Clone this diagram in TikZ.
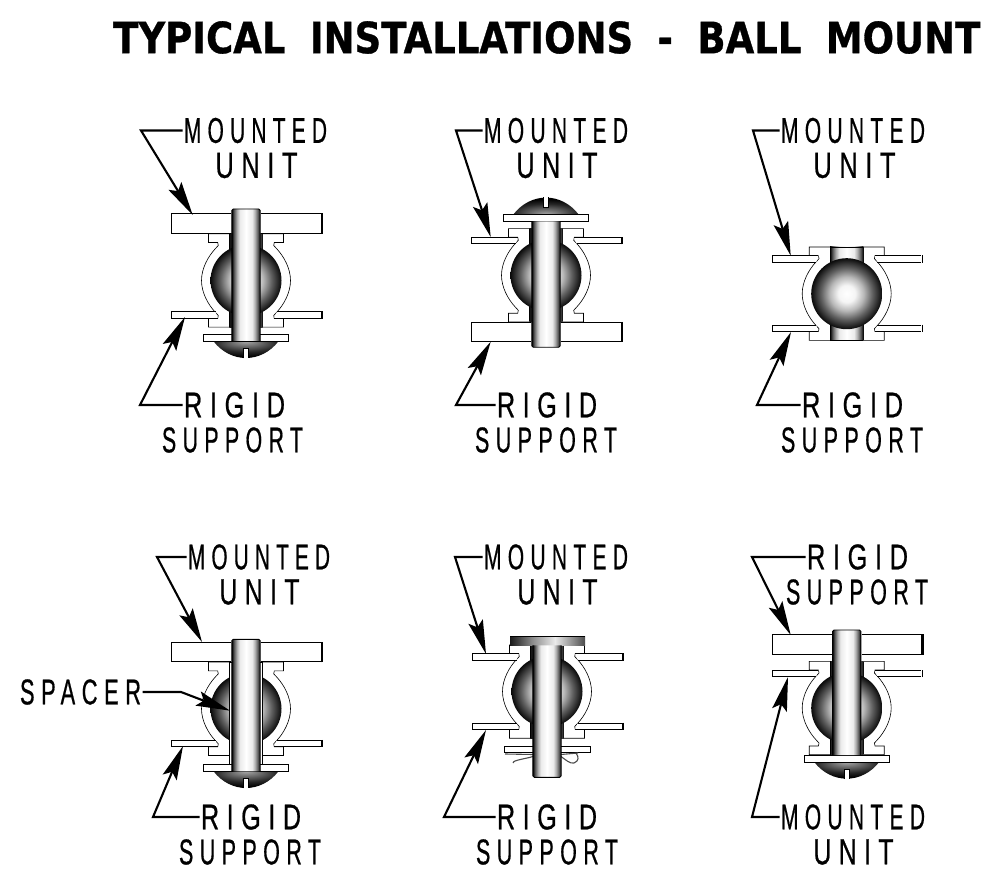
\documentclass[tikz,border=0pt]{standalone}
\usepackage{fontspec}
\usepackage{graphicx}
\usetikzlibrary{arrows.meta}
\newfontfamily\labf[LetterSpace=30,FakeBold=0.8]{Liberation Sans}
\newfontfamily\titf[WordSpace=1.9,FakeBold=0.8]{DejaVu Sans Bold}
\pgfdeclarehorizontalshading{pinsh}{100bp}{color(0bp)=(black);color(25bp)=(black);color(29bp)=(black!65);color(34bp)=(black!32);color(39bp)=(black!8);color(50bp)=(white);color(61bp)=(black!8);color(66bp)=(black!32);color(71bp)=(black!65);color(75bp)=(black);color(100bp)=(black)}
\pgfdeclareradialshading{ballsh}{\pgfpoint{0bp}{0bp}}{color(0bp)=(white);color(6bp)=(black!4);color(12bp)=(black!28);color(18bp)=(black!62);color(25bp)=(black!96);color(50bp)=(black)}
\pgfdeclareradialshading{domedn}{\pgfpoint{0bp}{25bp}}{color(0bp)=(black!35);color(12bp)=(black!60);color(24bp)=(black!85);color(35bp)=(black);color(80bp)=(black)}
\pgfdeclareradialshading{domeup}{\pgfpoint{0bp}{-25bp}}{color(0bp)=(black!35);color(12bp)=(black!60);color(24bp)=(black!85);color(35bp)=(black);color(80bp)=(black)}
\pgfdeclarehorizontalshading{headsh}{100bp}{color(0bp)=(black!90);color(25bp)=(black!90);color(40bp)=(black!45);color(55bp)=(black!8);color(75bp)=(black!70);color(100bp)=(black!70)}
\tikzset{
 lbl/.style={anchor=west,inner sep=0pt,outer sep=1.5pt},
 conn/.style={line width=2.1pt,line join=miter,-{Stealth[length=34pt,width=15pt,inset=6pt]}},
 part/.style={draw=black,fill=white,line width=1pt},
 thinln/.style={draw=black,fill=white,line width=.6pt},
 wire/.style={draw=black!70,line width=1.1pt}
}
% housing with ball and neck
\newcommand\hsg[2]{\begin{scope}[shift={(#1,#2)}]
 \path[thinln] (-37.5,-46.7) -- (-37.5,-38) -- (-28.3,-38) -- (-27.7,-35) -- (-30.5,-32)
  .. controls (-38,-24) and (-44.5,-12) .. (-44.5,0)
  .. controls (-44.5,12) and (-38,24) .. (-30.5,32) -- (-27.7,35) -- (-28.3,38) -- (-37.5,38) -- (-37.5,46.7)
  -- (37.5,46.7) -- (37.5,38) -- (28.3,38) -- (27.7,35) -- (30.5,32)
  .. controls (38,24) and (44.5,12) .. (44.5,0)
  .. controls (44.5,-12) and (38,-24) .. (30.5,-32) -- (27.7,-35) -- (28.3,-38) -- (37.5,-38) -- (37.5,-46.7) -- cycle;
 \path[shading=pinsh] (-16.7,-46.7) rectangle (16.7,46.7);
 \path[shading=ballsh] (0,0) circle[radius=35.5];
\end{scope}}
% thin plates, sign = -1 upper, +1 lower
\newcommand\thinp[3]{\begin{scope}[shift={(#1,#2)},yscale=#3]
 \path[part] (-28.3,38) -- (-74.5,38) -- (-74.5,31.5) -- (-30.5,31.5);
 \path[fill=white] (28.3,37.5) -- (74,37.5) -- (74,32) -- (30.5,32) -- cycle;
 \path[part] (28.3,38) -- (74.5,38);
 \path[part] (74.5,31.5) -- (30.5,31.5);
 \draw[line width=1.8pt] (75.7,31) -- (75.7,38.5);
\end{scope}}
% thick plate
\newcommand\thickp[3]{\begin{scope}[shift={(#1,#2)},yscale=#3]
 \path[part] (-15,47) -- (-74.5,47) -- (-74.5,66.5) -- (-15,66.5);
 \path[fill=white] (15,47.5) rectangle (74,66);
 \draw[line width=1pt] (15,47) -- (74.5,47) (15,66.5) -- (74.5,66.5);
 \draw[line width=2.2pt] (75.7,46.5) -- (75.7,67);
\end{scope}}
% pin from y1 (capped, chamfered) to y2 (plain)
\newcommand\pinp[4]{\begin{scope}[shift={(#1,#2)},yscale=#3]
 \path[shading=pinsh] (-14.2,#4) -- (-14.2,1.5) -- (-12.8,0) -- (12.8,0) -- (14.2,1.5) -- (14.2,#4) -- cycle;
 \draw[line width=.9pt] (-14.2,#4) -- (-14.2,1.5) -- (-12.8,0) -- (12.8,0) -- (14.2,1.5) -- (14.2,#4);
\end{scope}}
% washer + dome; y measured from washer inner edge
\newcommand\domep[4]{\begin{scope}[shift={(#1,#2)},yscale=#3]
 \path[shading=#4] (-32.5,7) .. controls (-24,18) and (-12,23.7) .. (0,23.7) .. controls (12,23.7) and (24,18) .. (32.5,7) -- cycle;
 \path[part] (-42.5,0) rectangle (42.5,7);
 \path[fill=white] (-2.5,14) rectangle (2.5,24.5);
 \draw[line width=.6pt] (-2.5,24) -- (-2.5,14) -- (2.5,14) -- (2.5,24);
\end{scope}}
\newcommand\lab[5]{\node[lbl] (#1) at (#2,#3) {\resizebox{#4pt}{25pt}{\labf #5}};}
\begin{document}
\begin{tikzpicture}[x=1pt,y=-1pt]
\useasboundingbox (0,0) rectangle (994,882);
\fill[white] (0,0) rectangle (994,882);
\node[anchor=west,inner sep=0pt] (title) at (113,37.5) {\resizebox{867pt}{32pt}{\titf TYPICAL INSTALLATIONS - BALL MOUNT}};

% ---- mount 1
\hsg{246}{280.5}
\thickp{246}{280.5}{-1}
\thinp{246}{280.5}{1}
\domep{246}{334.3}{1}{domedn}
\pinp{246}{209}{1}{132}
% ---- mount 2
\hsg{546}{275.3}
\thinp{546}{275.3}{-1}
\thickp{546}{275.3}{1}
\domep{546}{221.3}{-1}{domeup}
\pinp{546}{347.3}{-1}{126}
% ---- mount 3
\hsg{846.7}{293.7}
\thinp{846.7}{293.7}{-1}
\thinp{846.7}{293.7}{1}
\draw[line width=.8pt] (830,247) -- (863.4,247) (830,340.4) -- (863.4,340.4);
% ---- mount 4
\hsg{246}{708.8}
\thickp{246}{708.8}{-1}
\thinp{246}{708.8}{1}
\path[thinln] (229.3,661.8) rectangle (262.7,764.3);
\domep{246}{764.3}{1}{domedn}
\pinp{246}{639.3}{1}{132}
% ---- mount 5
\hsg{547}{691.5}
\thinp{547}{691.5}{-1}
\thinp{547}{691.5}{1}
\path[part] (504.5,746) rectangle (590,752.7);
\draw[wire] (505,754) -- (533,754.5) (561,754.5) -- (578,753);
\draw[wire] (513,763) .. controls (513,760) and (525,759) .. (533,756.5);
\draw[wire] (561,756.5) .. controls (566,760) and (570,764) .. (574,763) .. controls (579,761) and (579,757) .. (576,753);
\path[shading=headsh] (510,636) rectangle (585,645.3);
\draw[line width=.8pt] (510,636) -- (585,636);
\pinp{547}{777.3}{-1}{132}
% ---- mount 6
\hsg{846.7}{708}
\thinp{846.7}{708}{-1}
\thickp{846.7}{701.3}{-1}
\domep{846.7}{755}{1}{domedn}
\pinp{846.7}{630}{1}{125}

% ---- labels
\lab{aM}{182.5}{130.5}{143}{MOUNTED}
\lab{aU}{214}{165.5}{82}{UNIT}
\lab{aR}{182.5}{405}{101}{RIGID}
\lab{aS}{160.5}{440}{141}{SUPPORT}
\lab{bM}{482.5}{130.5}{144}{MOUNTED}
\lab{bU}{515}{165.5}{81}{UNIT}
\lab{bR}{495.5}{405}{100}{RIGID}
\lab{bS}{473.5}{440}{142}{SUPPORT}
\lab{cM}{779.5}{130.5}{144}{MOUNTED}
\lab{cU}{812}{165.5}{82}{UNIT}
\lab{cR}{800.5}{405}{101}{RIGID}
\lab{cS}{779.5}{440}{142}{SUPPORT}
\lab{dM}{186.5}{557}{142}{MOUNTED}
\lab{dU}{218}{592}{80}{UNIT}
\lab{dR}{199.5}{817}{100}{RIGID}
\lab{dS}{177.5}{852}{142}{SUPPORT}
\lab{dP}{18.5}{692}{121}{SPACER}
\lab{eM}{482.5}{557}{144}{MOUNTED}
\lab{eU}{516}{592}{80}{UNIT}
\lab{eR}{495.5}{817}{100}{RIGID}
\lab{eS}{474.5}{852}{142}{SUPPORT}
\lab{fR}{805.5}{557}{101}{RIGID}
\lab{fS}{784.5}{592}{142}{SUPPORT}
\lab{fM}{779.5}{817}{144}{MOUNTED}
\lab{fU}{812}{852}{80}{UNIT}

% ---- connector points
\coordinate (a1b) at (141,130.5); \coordinate (a1t) at (192.7,215);
\coordinate (a2b) at (140,405); \coordinate (a2t) at (185,317);
\coordinate (b1b) at (456,130.5); \coordinate (b1t) at (490.7,237);
\coordinate (b2b) at (456,405); \coordinate (b2t) at (490.7,341.7);
\coordinate (c1b) at (753,130.5); \coordinate (c1t) at (790.7,255.7);
\coordinate (c2b) at (757,405); \coordinate (c2t) at (791,332);
\coordinate (d1b) at (157,557); \coordinate (d1t) at (202,642);
\coordinate (d2b) at (153,817); \coordinate (d2t) at (183,746);
\coordinate (dpb) at (181,692); \coordinate (dpt) at (230,710.7);
\coordinate (e1b) at (455,557); \coordinate (e1t) at (486,654);
\coordinate (e2b) at (444,817); \coordinate (e2t) at (486,730);
\coordinate (f1b) at (752,557); \coordinate (f1t) at (790.7,635);
\coordinate (f2b) at (752,817); \coordinate (f2t) at (788,677);
\draw[conn] (aM.west) -- (a1b) -- (a1t);
\draw[conn] (aR.west) -- (a2b) -- (a2t);
\draw[conn] (bM.west) -- (b1b) -- (b1t);
\draw[conn] (bR.west) -- (b2b) -- (b2t);
\draw[conn] (cM.west) -- (c1b) -- (c1t);
\draw[conn] (cR.west) -- (c2b) -- (c2t);
\draw[conn] (dM.west) -- (d1b) -- (d1t);
\draw[conn] (dR.west) -- (d2b) -- (d2t);
\draw[conn] (dP.east) -- (dpb) -- (dpt);
\draw[conn] (eM.west) -- (e1b) -- (e1t);
\draw[conn] (eR.west) -- (e2b) -- (e2t);
\draw[conn] (fR.west) -- (f1b) -- (f1t);
\draw[conn] (fM.west) -- (f2b) -- (f2t);
\end{tikzpicture}
\end{document}
